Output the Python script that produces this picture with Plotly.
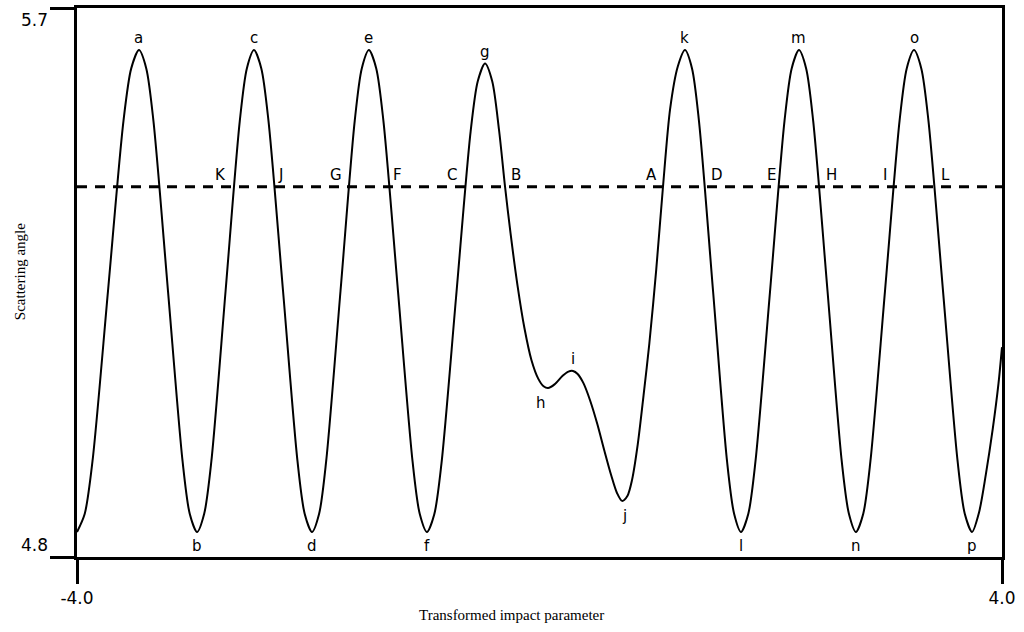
import plotly.graph_objects as go

# ---- data (x: transformed impact parameter, y: scattering angle) ----
curve_x = [
    -4.000, -3.933, -3.866, -3.732, -3.598, -3.531, -3.464,
    -3.401, -3.339, -3.213, -3.087, -3.025, -2.962,
    -2.900, -2.838, -2.715, -2.592, -2.531, -2.469,
    -2.406, -2.344, -2.218, -2.093, -2.031, -1.968,
    -1.906, -1.845, -1.721, -1.598, -1.537, -1.475,
    -1.412, -1.350, -1.224, -1.098, -1.036, -0.973,
    -0.910, -0.848, -0.722, -0.596, -0.534, -0.471,
    -0.409, -0.350, -0.298, -0.250, -0.190, -0.130, -0.070, -0.010, 0.035, 0.074,
    0.130, 0.200, 0.250, 0.290, 0.330, 0.380, 0.437, 0.500, 0.560, 0.620, 0.670, 0.714,
    0.760, 0.800, 0.850, 0.900, 0.950, 1.010, 1.068, 1.130, 1.196, 1.258,
    1.319, 1.379, 1.501, 1.622, 1.683, 1.743,
    1.806, 1.868, 1.994, 2.119, 2.181, 2.244,
    2.306, 2.367, 2.491, 2.614, 2.676, 2.737,
    2.800, 2.862, 2.988, 3.114, 3.176, 3.239,
    3.302, 3.364, 3.490, 3.616, 3.678, 3.741,
    3.800, 3.860, 3.920, 3.970, 4.000,
]
curve_y = [
    4.841, 4.871, 4.957, 5.236, 5.515, 5.601, 5.631,
    5.601, 5.515, 5.236, 4.957, 4.871, 4.841,
    4.871, 4.957, 5.236, 5.515, 5.601, 5.631,
    5.601, 5.515, 5.236, 4.957, 4.871, 4.841,
    4.871, 4.957, 5.236, 5.515, 5.601, 5.631,
    5.601, 5.515, 5.236, 4.957, 4.871, 4.841,
    4.870, 4.953, 5.225, 5.497, 5.580, 5.609,
    5.580, 5.500, 5.407, 5.330, 5.245, 5.175, 5.123, 5.092, 5.080, 5.077,
    5.083, 5.097, 5.104, 5.105, 5.100, 5.085, 5.057, 5.018, 4.975, 4.934, 4.905, 4.892,
    4.900, 4.926, 4.985, 5.065, 5.150, 5.272, 5.407, 5.535, 5.604, 5.631,
    5.601, 5.515, 5.236, 4.957, 4.871, 4.841,
    4.871, 4.957, 5.236, 5.515, 5.601, 5.631,
    5.601, 5.515, 5.236, 4.957, 4.871, 4.841,
    4.871, 4.957, 5.236, 5.515, 5.601, 5.631,
    5.601, 5.515, 5.236, 4.957, 4.871, 4.841,
    4.872, 4.935, 5.010, 5.085, 5.144,
]

dashed_level = 5.407

# labels of the extrema
extrema_names = ["a", "b", "c", "d", "e", "f", "g", "h", "i", "j", "k", "l", "m", "n", "o", "p"]
extrema_x = [-3.464, -2.962, -2.469, -1.968, -1.475, -0.973, -0.471, 0.074, 0.290, 0.714,
             1.258, 1.743, 2.244, 2.737, 3.239, 3.741]
extrema_y = [5.631, 4.841, 5.631, 4.841, 5.631, 4.841, 5.609, 5.077, 5.105, 4.892,
             5.631, 4.841, 5.631, 4.841, 5.631, 4.841]
extrema_pos = ["top", "bottom", "top", "bottom", "top", "bottom", "top", "h", "top", "j",
               "top", "bottom", "top", "bottom", "top", "bottom"]

# labels of the crossings with the dashed line
cross_names = ["K", "J", "G", "F", "C", "B", "A", "D", "E", "H", "I", "L"]
cross_x = [-2.659, -2.314, -1.656, -1.319, -0.662, -0.298, 1.068, 1.431, 2.097, 2.426, 3.057, 3.420]
cross_side = ["left", "right", "left", "right", "left", "right", "left", "right", "left", "right", "left", "right"]

x_ticks = [-4.0, 4.0]
x_tick_text = ["-4.0", "4.0"]
y_ticks = [4.8, 5.7]
y_tick_text = ["4.8", "5.7"]

x_title = "Transformed impact parameter"
y_title = "Scattering angle"

label_font = dict(family="DejaVu Sans", size=15, color="black")
tick_font = dict(family="DejaVu Sans", size=17, color="black")
title_font = dict(family="Liberation Serif", size=15, color="black")

fig = go.Figure()
fig.add_trace(go.Scatter(
    x=[x_ticks[0], x_ticks[1]], y=[dashed_level, dashed_level], mode="lines",
    line=dict(color="black", width=3, dash="10px,8px"), hoverinfo="skip", showlegend=False,
))
fig.add_trace(go.Scatter(
    x=curve_x, y=curve_y, mode="lines",
    line=dict(color="black", width=2, shape="spline", smoothing=0.8),
    showlegend=False,
))

annotations = []
for name, x, y, pos in zip(extrema_names, extrema_x, extrema_y, extrema_pos):
    if pos == "top":
        annotations.append(dict(x=x, y=y, text=name, showarrow=False, xanchor="center",
                                yanchor="bottom", yshift=1, font=label_font))
    elif pos == "bottom":
        annotations.append(dict(x=x, y=y, text=name, showarrow=False, xanchor="center",
                                yanchor="top", yshift=-3, font=label_font))
    elif pos == "h":
        annotations.append(dict(x=x, y=y, text=name, showarrow=False, xanchor="center",
                                yanchor="top", xshift=-7, yshift=-4, font=label_font))
    elif pos == "j":
        annotations.append(dict(x=x, y=y, text=name, showarrow=False, xanchor="center",
                                yanchor="top", xshift=2, yshift=-4, font=label_font))

for name, x, side in zip(cross_names, cross_x, cross_side):
    annotations.append(dict(x=x, y=dashed_level, text=name, showarrow=False,
                            xanchor="right" if side == "left" else "left",
                            xshift=-4 if side == "left" else 4,
                            yanchor="bottom", yshift=1, font=label_font))

# y tick labels: 5.7 hangs below the top line, 4.8 sits on the bottom line
for val, txt in zip(y_ticks, y_tick_text):
    annotations.append(dict(x=-0.029, xref="paper", y=val, yref="y", text=txt, showarrow=False,
                            xanchor="right", yanchor="top" if val == max(y_ticks) else "bottom",
                            font=tick_font))

annotations.append(dict(x=0.47, y=-0.105, xref="paper", yref="paper", text=x_title,
                        showarrow=False, xanchor="center", yanchor="middle", font=title_font))
annotations.append(dict(x=-0.062, y=0.52, xref="paper", yref="paper", text=y_title,
                        showarrow=False, textangle=-90, xanchor="center", yanchor="middle",
                        font=title_font))

axis_common = dict(showgrid=False, zeroline=False, showline=True, linecolor="black", linewidth=2.5,
                   mirror=True, ticks="outside", tickcolor="black", tickwidth=2.5, ticklen=24,
                   automargin=False, tickfont=tick_font)

fig.update_layout(
    width=1024, height=632,
    margin=dict(l=77, r=22, t=8, b=75, autoexpand=False),
    paper_bgcolor="white", plot_bgcolor="white",
    xaxis=dict(range=[-4.0, 4.0], tickvals=x_ticks, ticktext=x_tick_text, **axis_common),
    yaxis=dict(range=[4.8, 5.7], tickvals=y_ticks, ticktext=y_tick_text, showticklabels=False,
               **axis_common),
    annotations=annotations,
    showlegend=False,
)

fig.write_html("out.html")
